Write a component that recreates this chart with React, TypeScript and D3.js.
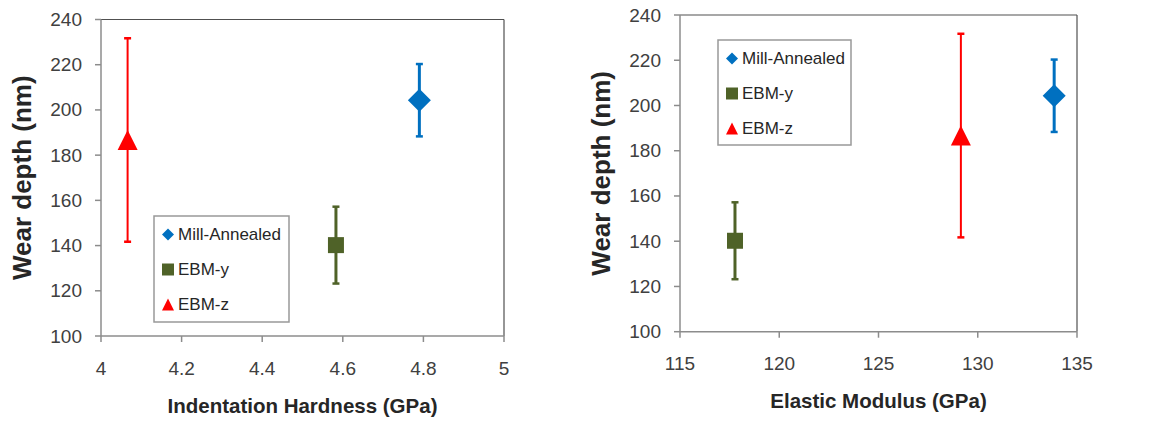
import React, { useEffect } from "react";
import * as d3 from "d3";

// Series and measured values
const seriesNames = ["Mill-Annealed", "EBM-y", "EBM-z"];
const seriesColors = ["#0070C0", "#4F6228", "#FF0000"];
const seriesShapes = ["diamond", "square", "triangle"];
const hardness = [4.79, 4.583, 4.066]; // GPa
const modulus = [133.85, 117.77, 129.15]; // GPa
const wearDepth = [204.3, 140.2, 186.7]; // nm
const wearErr = [16, 17, 45]; // nm, symmetric
const errWidths = [3, 3, 2];

const depthTicks = [100, 120, 140, 160, 180, 200, 220, 240];
const hardnessTicks = [4, 4.2, 4.4, 4.6, 4.8, 5];
const modulusTicks = [115, 120, 125, 130, 135];

const FONT = "'Liberation Sans', Arial, sans-serif";

type PanelProps = {
  xValues: number[];
  xTicks: number[];
  xDomain: [number, number];
  xTitle: string;
  left: number;
  right: number;
  top: number;
  bottom: number;
  legend: { x: number; y: number; w: number; h: number };
};

function markerPath(shape: string, size: number): string {
  const h = size / 2;
  if (shape === "diamond") return `M0,${-h}L${h},0L0,${h}L${-h},0Z`;
  if (shape === "square") return `M${-h},${-h}H${h}V${h}H${-h}Z`;
  // triangle, centered on its bounding box
  return `M0,${-h}L${h},${h}L${-h},${h}Z`;
}

const markerSizes = [23, 16, 20];

function Panel(p: PanelProps) {
  const x = d3.scaleLinear().domain(p.xDomain).range([p.left, p.right]);
  const y = d3.scaleLinear().domain([100, 240]).range([p.bottom, p.top]);
  const axisColor = "#8c8c8c";
  const textColor = "#404040";
  const cx = (p.left + p.right) / 2;
  const cy = (p.top + p.bottom) / 2;
  return (
    <g>
      {/* plot frame */}
      <line x1={p.left} y1={p.top} x2={p.right} y2={p.top} stroke="#505050" strokeWidth={1.2} />
      <line x1={p.right} y1={p.top} x2={p.right} y2={p.bottom} stroke="#505050" strokeWidth={1.2} />
      <line x1={p.left} y1={p.top} x2={p.left} y2={p.bottom} stroke={axisColor} strokeWidth={1.5} />
      <line x1={p.left} y1={p.bottom} x2={p.right} y2={p.bottom} stroke={axisColor} strokeWidth={1.5} />

      {/* y axis */}
      {depthTicks.map((t) => (
        <g key={"y" + t}>
          <line x1={p.left - 6} x2={p.left} y1={y(t)} y2={y(t)} stroke={axisColor} strokeWidth={1.5} />
          <text x={p.left - 19} y={y(t)} textAnchor="end" dominantBaseline="central" fontSize={19} fill={textColor} fontFamily={FONT}>
            {t}
          </text>
        </g>
      ))}
      {/* x axis */}
      {p.xTicks.map((t) => (
        <g key={"x" + t}>
          <line x1={x(t)} x2={x(t)} y1={p.bottom} y2={p.bottom + 6} stroke={axisColor} strokeWidth={1.5} />
          <text x={x(t)} y={p.bottom + 32} textAnchor="middle" dominantBaseline="central" fontSize={19} fill={textColor} fontFamily={FONT}>
            {t}
          </text>
        </g>
      ))}

      <text
        x={cx}
        y={p.bottom + 69}
        textAnchor="middle"
        dominantBaseline="central"
        fontSize={20.5}
        fontWeight="bold"
        fill="#262626"
        fontFamily={FONT}
      >
        {p.xTitle}
      </text>
      <text
        transform={`translate(${p.left - 79},${cy}) rotate(-90)`}
        textAnchor="middle"
        dominantBaseline="central"
        fontSize={26}
        fontWeight="bold"
        fill="#262626"
        fontFamily={FONT}
      >
        Wear depth (nm)
      </text>

      {/* error bars and markers */}
      {seriesNames.map((name, i) => {
        const px = x(p.xValues[i]);
        const lo = y(wearDepth[i] - wearErr[i]);
        const hi = y(wearDepth[i] + wearErr[i]);
        const c = seriesColors[i];
        return (
          <g key={name}>
            <line x1={px} x2={px} y1={lo} y2={hi} stroke={c} strokeWidth={errWidths[i]} />
            <line x1={px - 3.5} x2={px + 3.5} y1={lo} y2={lo} stroke={c} strokeWidth={2.5} />
            <line x1={px - 3.5} x2={px + 3.5} y1={hi} y2={hi} stroke={c} strokeWidth={2.5} />
            <path
              d={markerPath(seriesShapes[i], markerSizes[i])}
              transform={`translate(${px},${y(wearDepth[i])})`}
              fill={c}
            />
          </g>
        );
      })}

      {/* legend */}
      <rect x={p.legend.x} y={p.legend.y} width={p.legend.w} height={p.legend.h} fill="white" stroke="#999" strokeWidth={1.5} />
      {seriesNames.map((name, i) => {
        const ly = p.legend.y + 18.5 + i * 35;
        return (
          <g key={"lg" + name}>
            <path d={markerPath(seriesShapes[i], 12)} transform={`translate(${p.legend.x + 14},${ly})`} fill={seriesColors[i]} />
            <text x={p.legend.x + 24} y={ly} dominantBaseline="central" fontSize={17} fill="#262626" fontFamily={FONT}>
              {name}
            </text>
          </g>
        );
      })}
    </g>
  );
}

export default function App() {
  useEffect(() => {
    document.body.style.margin = "0";
  }, []);
  return (
    <svg width={1153} height={421} style={{ display: "block", background: "white" }}>
      <rect width={1153} height={421} fill="white" />
      <Panel
        xValues={hardness}
        xTicks={hardnessTicks}
        xDomain={[4, 5]}
        xTitle="Indentation Hardness (GPa)"
        left={101}
        right={504}
        top={19.5}
        bottom={336}
        legend={{ x: 154, y: 216, w: 135, h: 106 }}
      />
      <Panel
        xValues={modulus}
        xTicks={modulusTicks}
        xDomain={[115, 135]}
        xTitle="Elastic Modulus (GPa)"
        left={680}
        right={1077}
        top={15}
        bottom={331.7}
        legend={{ x: 718, y: 40, w: 133, h: 105 }}
      />
    </svg>
  );
}
